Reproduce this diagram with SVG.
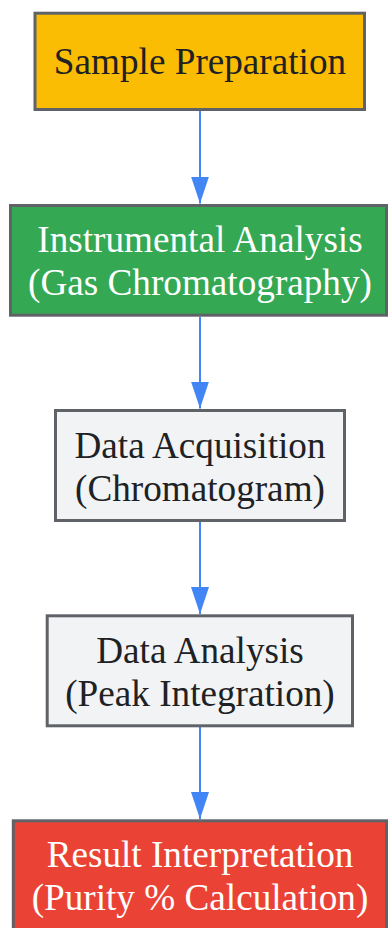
<svg xmlns="http://www.w3.org/2000/svg" width="388" height="928" viewBox="0 0 388 928">
<defs>
<style>
.box{stroke:#5f6368;stroke-width:3}
.t{font-family:"Liberation Serif","Times New Roman",serif;font-size:37.2px;text-anchor:middle}
.dark{fill:#202124}
.light{fill:#ffffff}
.edge{stroke:#4285f4;stroke-width:2;fill:none}
</style>
<marker id="arr" markerUnits="userSpaceOnUse" markerWidth="27" markerHeight="18" refX="27" refY="9" orient="auto" viewBox="0 0 27 18">
<path d="M0,0 L27,9 L0,18 Z" fill="#4285f4"/>
</marker>
</defs>
<rect width="388" height="928" fill="#ffffff"/>
<g id="connectors">
<line class="edge" x1="200" y1="111" x2="200" y2="203.5" marker-end="url(#arr)"/>
<line class="edge" x1="200" y1="317" x2="200" y2="408.5" marker-end="url(#arr)"/>
<line class="edge" x1="200" y1="522" x2="200" y2="614" marker-end="url(#arr)"/>
<line class="edge" x1="200" y1="727" x2="200" y2="819" marker-end="url(#arr)"/>
</g>
<g id="sample-preparation">
<rect class="box" x="35" y="13.2" width="329.5" height="96.3" fill="#fbbc04"/>
<text class="t dark" x="200" y="74">Sample Preparation</text>
</g>
<g id="instrumental-analysis">
<rect class="box" x="10.5" y="205.5" width="376" height="109.7" fill="#34a853"/>
<text class="t light" x="200" y="252">Instrumental Analysis</text>
<text class="t light" x="200" y="295">(Gas Chromatography)</text>
</g>
<g id="data-acquisition">
<rect class="box" x="55.5" y="410.5" width="289" height="110" fill="#f1f3f4"/>
<text class="t dark" x="200" y="457.5">Data Acquisition</text>
<text class="t dark" x="200" y="500.5">(Chromatogram)</text>
</g>
<g id="data-analysis">
<rect class="box" x="47.2" y="615.8" width="305.3" height="110" fill="#f1f3f4"/>
<text class="t dark" x="200" y="662.5">Data Analysis</text>
<text class="t dark" x="200" y="705.5">(Peak Integration)</text>
</g>
<g id="result-interpretation">
<rect class="box" x="13.3" y="820.8" width="373.2" height="110" fill="#ea4335"/>
<text class="t light" x="200" y="867">Result Interpretation</text>
<text class="t light" x="200" y="910">(Purity % Calculation)</text>
</g>
</svg>
